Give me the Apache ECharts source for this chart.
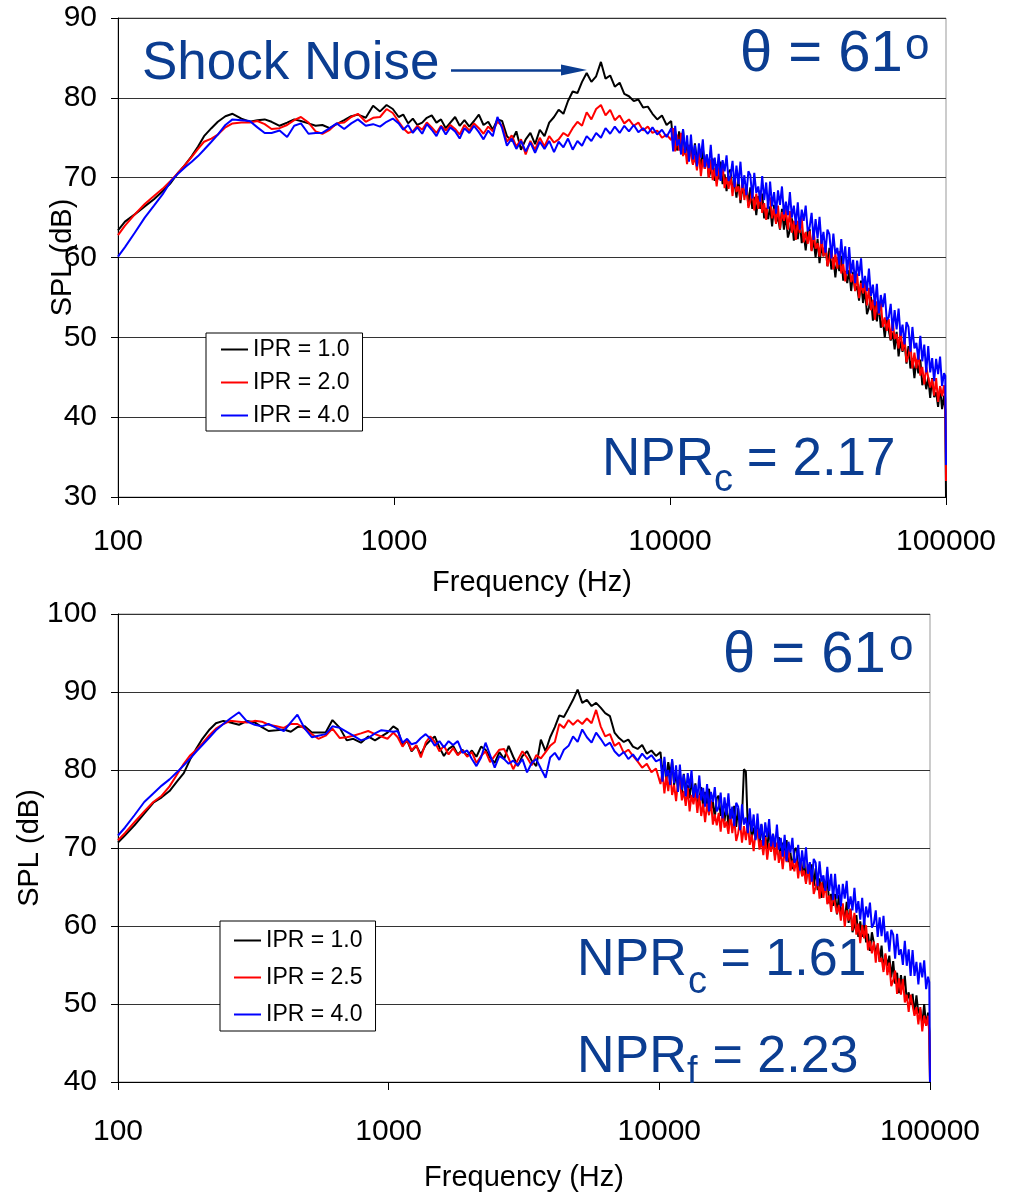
<!DOCTYPE html>
<html>
<head>
<meta charset="utf-8">
<script src="https://cdn.jsdelivr.net/npm/echarts@6.0.0/dist/echarts.min.js"></script>
<style>
html,body{margin:0;padding:0;background:#fff;}
#chart{width:1017px;height:1193px;}
</style>
</head>
<body>
<div id="chart"></div>
<script>
// ---------- DATA ----------
const FREQ = [
  // 100 - 1000 Hz
  100,106,115,125,135,145,155,165,175,185,195,205,218,230,245,260,280,300,320,340,360,385,410,435,460,490,520,550,585,620,660,700,740,790,840,890,940,990,
  // 1 k - 10 kHz
  1040,1080,1125,1170,1215,1265,1315,1370,1425,1480,1540,1600,1665,1730,1800,1875,1950,2030,2110,2195,2280,2370,2465,2565,2670,2775,2885,3000,3120,3245,3375,3510,3650,3800,3950,4110,4270,4440,4620,4800,4990,5190,5400,5620,5840,6070,6310,6570,6830,7100,7390,7680,7990,8310,8640,8990,9350,9720,
  // 10 k - 100 kHz
  10100,10270,10440,10610,10790,10970,11150,11340,11530,11720,
  11910,12110,12310,12520,12730,12940,13150,13370,13590,13820,
  14050,14280,14520,14760,15010,15260,15510,15770,16030,16300,
  16570,16850,17130,17410,17700,18000,18300,18600,18910,19230,
  19550,19870,20200,20540,20880,21230,21580,21940,22310,22680,
  23050,23440,23830,24220,24620,25030,25450,25870,26300,26740,
  27190,27640,28100,28570,29040,29520,30010,30510,31020,31540,
  32060,32590,33130,33690,34250,34820,35400,35980,36580,37190,
  37810,38440,39080,39730,40390,41060,41740,42440,43140,43860,
  44590,45330,46080,46850,47630,48420,49230,50040,50880,51720,
  52580,53460,54350,55250,56170,57100,58050,59020,60000,61000,
  62010,63040,64090,65150,66230,67330,68450,69590,70750,71920,
  73120,74330,75570,76830,78100,79400,80720,82060,83420,84810,
  86220,87650,89100,90580,92090,93620,95180,96760,98360,99400,
  100000
];

// Top panel (NPRc = 2.17)
const SPL_TOP_IPR10 = [
  63.4,64.5,65.4,66.4,67.3,68.3,69.3,70.6,71.6,72.7,73.9,75.2,76.2,77.0,77.7,78.0,77.4,77.0,77.2,77.3,77.0,76.5,76.9,77.3,77.1,76.8,76.5,76.6,76.2,76.7,77.2,77.7,77.9,77.5,79.0,78.3,79.1,78.6,
  77.6,77.9,76.8,77.4,76.6,76.9,77.5,77.8,76.9,77.3,76.2,76.9,77.6,76.5,77.2,76.4,77.1,77.9,76.6,77.0,76.0,77.3,77.1,75.2,74.6,75.8,73.5,74.8,75.6,74.2,76.0,75.2,76.9,77.6,78.5,78.0,79.6,80.8,80.6,82.0,83.1,82.0,82.7,84.5,82.4,82.8,81.4,81.9,80.5,80.2,79.6,79.8,78.8,78.9,78.0,77.3,77.8,76.6,
  77.1,74.4,75.8,73.4,75.8,74.2,76.0,72.9,74.2,72.6,
  74.2,71.7,74.3,72.1,72.8,71.1,73.7,71.1,72.9,70.0,
  70.9,72.4,69.6,71.7,69.8,72.0,69.2,70.4,68.3,70.7,
  71.0,68.3,69.5,67.5,69.8,66.8,68.9,67.7,69.2,66.5,
  68.8,66.1,67.6,65.3,67.7,66.1,68.0,64.9,66.2,64.8,
  66.4,63.9,66.6,64.4,65.1,63.5,66.1,63.5,65.3,62.5,
  63.4,64.9,62.1,64.2,62.3,64.6,61.8,63.0,60.9,63.3,
  63.6,60.9,62.1,60.0,62.3,59.3,61.4,60.2,61.6,58.9,
  61.2,58.5,60.0,57.5,59.9,58.3,60.2,57.1,58.3,56.8,
  58.4,55.8,58.2,55.9,56.4,54.6,57.1,54.3,56.0,52.9,
  53.7,55.1,52.1,54.1,52.0,54.1,51.2,52.2,50.0,52.2,
  52.4,49.6,50.6,48.5,50.7,47.6,49.5,48.2,49.6,46.7,
  48.9,46.1,47.4,44.9,47.2,45.5,47.2,44.0,45.2,43.5,
  45.0,42.4,44.9,42.5,43.1,41.3,43.8,41.0,42.7,40.8,
  30.0
];
const SPL_TOP_IPR20 = [
  62.8,64.0,65.4,66.7,67.7,68.6,69.6,70.6,71.6,72.6,73.6,74.5,74.9,75.4,76.3,76.8,76.9,76.9,77.1,76.7,76.1,76.2,76.6,77.2,77.6,76.9,75.8,75.5,76.0,76.8,76.9,77.6,78.0,77.0,77.5,77.6,78.6,78.1,
  77.0,76.2,75.6,75.8,76.5,76.0,76.9,76.3,75.6,76.5,75.9,76.6,76.1,75.4,76.6,75.9,76.8,76.2,75.5,76.4,75.8,77.0,76.5,74.5,75.3,73.9,74.8,72.9,74.6,73.5,75.0,73.9,75.2,74.4,74.8,75.6,75.2,76.2,77.0,76.5,78.2,77.3,78.6,79.1,77.8,78.5,77.2,77.8,76.8,77.3,76.5,76.9,75.9,76.4,75.6,75.9,75.0,75.4,
  74.7,76.2,73.3,75.4,73.4,75.6,72.7,73.9,71.7,74.1,
  74.3,71.6,72.8,70.9,73.2,70.2,72.3,71.1,72.7,70.0,
  72.3,69.7,71.2,68.9,71.3,69.8,71.7,68.7,70.0,68.6,
  70.2,67.7,70.3,68.2,68.9,67.2,69.8,67.2,69.1,66.2,
  67.1,68.6,65.9,68.0,66.1,68.4,65.6,66.8,64.7,67.2,
  67.5,64.9,66.1,64.2,66.5,63.6,65.7,64.6,66.1,63.5,
  65.8,63.1,64.6,62.2,64.6,63.1,65.0,61.9,63.2,61.7,
  63.3,60.8,63.4,61.1,61.8,60.1,62.7,60.1,61.8,58.9,
  59.8,61.3,58.5,60.5,58.6,60.8,58.0,59.2,57.0,59.4,
  59.7,56.9,57.9,55.8,58.0,54.9,56.8,55.5,56.9,54.0,
  56.2,53.4,54.7,52.2,54.5,52.8,54.5,51.3,52.5,50.8,
  52.3,49.7,52.1,49.8,50.4,48.6,51.0,48.3,50.0,46.9,
  47.7,49.1,46.1,48.1,46.1,48.2,45.2,46.3,44.1,46.3,
  46.5,43.7,44.8,42.7,44.9,41.9,43.9,42.6,44.0,42.3,
  32.0
];
const SPL_TOP_IPR40 = [
  60.1,61.3,63.1,65.0,66.5,67.9,69.5,70.5,71.3,72.0,72.7,73.5,74.5,75.4,76.6,77.3,77.2,77.1,76.3,75.6,75.6,75.9,75.1,76.5,76.8,75.5,75.6,75.6,76.2,76.8,76.1,76.8,77.3,76.5,76.7,76.4,77.0,77.4,
  76.8,76.0,76.6,75.6,76.3,75.5,76.7,76.0,75.2,76.4,75.4,76.3,75.8,74.9,76.2,75.6,76.5,75.7,74.8,75.9,75.2,77.6,76.2,74.0,74.9,73.6,74.6,73.3,74.4,73.1,74.5,73.6,74.6,73.2,74.5,73.8,74.9,73.5,74.6,74.0,75.2,74.6,75.6,75.0,76.2,75.5,76.4,75.6,76.5,75.8,76.6,75.7,76.2,75.5,76.3,75.4,76.0,75.1,
  76.2,73.3,76.5,74.0,74.8,72.9,76.1,73.1,75.3,72.0,
  75.4,72.3,74.1,71.4,74.3,72.5,74.8,71.3,72.9,71.2,
  74.1,71.0,72.5,70.2,73.0,69.6,72.2,70.8,72.8,69.6,
  70.2,72.1,68.8,71.5,69.2,72.0,68.7,70.3,67.8,70.8,
  70.3,67.4,70.6,68.1,68.9,67.0,70.2,67.2,69.4,66.1,
  69.5,66.4,68.2,65.5,68.4,66.6,68.9,65.4,67.0,65.3,
  68.2,65.0,66.5,64.1,66.9,63.5,66.0,64.6,66.5,63.3,
  63.8,65.6,62.2,64.8,62.4,65.1,61.7,63.2,60.6,63.5,
  62.9,59.9,63.0,60.4,61.2,59.1,62.3,59.2,61.4,57.9,
  61.3,58.0,59.7,56.8,59.6,57.7,59.9,56.2,57.7,55.8,
  58.6,55.2,56.6,54.0,56.7,53.0,55.3,53.8,55.5,52.2,
  52.5,54.2,50.8,53.4,51.0,53.6,50.2,51.6,49.1,51.9,
  51.3,48.2,51.3,48.6,49.3,47.2,50.2,47.0,49.1,45.6,
  48.9,45.6,47.4,44.5,47.3,45.4,47.6,43.9,45.5,45.2,
  34.0
];

// Bottom panel (NPRc = 1.61, NPRf = 2.23)
const SPL_BOT_IPR10 = [
  70.7,71.6,72.9,74.4,75.8,76.5,77.3,78.5,79.6,81.4,82.8,84.0,85.2,86.0,86.3,86.1,85.8,86.3,86.1,85.5,85.0,85.1,85.2,84.9,85.5,85.6,84.8,84.8,84.8,86.4,85.4,83.8,84.0,83.5,84.3,83.8,84.3,84.8,
  85.6,85.2,83.1,83.8,82.4,83.1,82.0,83.2,83.8,84.3,82.9,81.8,82.7,83.1,82.0,82.6,81.8,82.5,81.7,83.0,82.6,81.6,80.9,82.3,81.4,83.1,81.7,80.5,81.8,82.4,81.2,80.5,83.9,82.4,84.2,85.5,87.0,86.8,87.9,89.0,90.3,88.6,89.0,88.2,88.6,88.0,87.3,86.9,84.8,84.1,83.6,83.9,83.0,82.7,83.2,82.1,82.5,81.8,
  82.3,79.6,81.0,78.6,81.0,79.4,81.2,78.1,79.4,77.8,
  79.4,76.9,79.5,77.4,78.1,76.4,79.0,76.4,78.3,75.4,
  76.3,77.8,75.1,77.2,75.3,77.6,74.8,76.0,73.9,76.4,
  76.7,74.1,75.3,73.4,75.7,72.8,75.0,73.8,75.4,72.7,
  75.1,72.4,74.0,80.1,79.8,72.5,74.4,71.3,72.6,71.2,
  72.8,70.3,73.0,70.8,71.6,69.9,72.5,70.0,71.8,69.0,
  69.9,71.4,68.6,70.7,68.8,71.0,68.2,69.4,67.3,69.7,
  70.0,67.3,68.4,66.4,68.6,65.6,67.7,66.4,67.9,65.1,
  67.4,64.6,66.1,63.6,65.9,64.3,66.1,62.9,64.1,62.6,
  64.1,61.5,64.0,61.8,62.4,60.6,63.1,60.4,62.2,59.2,
  60.0,61.4,58.6,60.6,58.6,60.8,57.9,59.0,56.8,59.2,
  59.4,56.5,57.6,55.4,57.5,54.4,56.3,54.9,56.2,53.4,
  55.5,52.6,54.0,51.4,53.7,51.9,53.6,50.4,51.5,49.9,
  51.3,48.7,51.1,48.8,49.3,47.5,50.0,47.2,48.9,46.6,
  40.0
];
const SPL_BOT_IPR25 = [
  71.0,71.9,73.3,74.7,75.9,76.7,77.9,79.4,80.8,81.9,82.6,83.4,84.5,85.3,85.9,86.3,86.2,86.1,86.3,86.2,85.8,85.6,85.4,85.9,85.9,85.3,84.6,84.0,84.4,85.3,84.1,84.2,84.4,84.7,85.0,84.6,84.3,84.0,
  84.8,84.2,83.0,83.9,82.5,83.2,81.6,83.5,84.3,83.6,82.4,83.1,82.0,82.8,81.9,82.5,81.7,82.3,80.9,81.8,82.4,81.0,81.8,82.6,82.7,81.5,80.1,81.3,82.4,81.6,80.6,81.9,81.5,82.3,83.1,83.6,85.9,85.4,86.4,85.8,86.4,85.9,86.6,86.0,87.7,85.6,84.3,84.6,83.1,83.5,82.2,82.6,81.8,81.1,80.3,80.8,79.7,80.2,
  78.2,79.8,77.0,79.2,77.3,79.6,76.8,78.1,76.0,78.5,
  78.8,76.1,77.3,75.4,77.7,74.7,76.8,75.6,77.2,74.5,
  76.8,74.1,75.7,73.3,75.7,74.2,76.1,73.0,74.3,72.9,
  74.5,72.1,74.7,72.6,73.4,71.8,74.4,71.9,73.8,70.9,
  71.9,73.4,70.7,72.8,71.0,73.2,70.4,71.7,69.6,72.1,
  72.4,69.8,71.0,69.1,71.4,68.5,70.6,69.5,71.0,68.4,
  70.7,68.1,69.6,67.3,69.7,68.2,70.1,67.1,68.4,67.0,
  68.6,66.1,68.6,66.4,67.1,65.4,67.9,65.3,67.1,64.1,
  65.0,66.4,63.5,65.6,63.6,65.7,62.8,63.9,61.8,64.1,
  64.3,61.6,62.7,60.7,62.9,59.9,62.0,60.7,62.2,59.4,
  61.7,58.9,60.3,57.8,60.1,58.4,60.1,56.9,58.1,56.5,
  58.0,55.3,57.8,55.4,55.9,54.1,56.5,53.7,55.3,52.3,
  53.0,54.3,51.3,53.3,51.2,53.2,50.2,51.2,49.0,51.2,
  51.3,48.5,49.6,47.4,49.6,46.5,48.5,47.2,48.5,46.2,
  40.0
];
const SPL_BOT_IPR40 = [
  71.6,72.6,74.2,75.9,77.0,78.0,78.8,79.7,80.6,81.5,82.4,83.2,84.2,85.1,85.9,86.6,87.4,86.2,85.8,85.6,85.9,85.4,85.0,86.1,87.1,85.3,84.2,84.4,84.6,85.6,85.4,84.9,84.4,83.8,84.1,84.7,85.1,85.0,
  84.9,85.0,83.5,84.0,83.3,83.5,84.1,84.6,84.0,83.1,83.7,82.9,83.7,83.2,83.7,82.2,82.5,81.4,80.5,81.6,83.5,81.9,80.3,81.8,81.4,80.8,81.2,80.6,81.4,79.7,80.9,81.4,80.2,79.0,81.6,82.2,81.3,82.6,83.1,84.3,83.6,85.2,84.2,83.5,84.8,84.0,83.1,83.5,82.4,81.8,82.3,81.4,82.0,81.2,82.1,81.4,81.9,81.1,
  81.4,78.5,81.7,79.2,80.0,78.1,81.4,78.3,80.6,77.2,
  80.7,77.5,79.4,76.6,79.6,77.7,80.0,76.5,78.1,76.4,
  79.3,76.1,77.7,75.3,78.2,74.7,77.2,75.9,77.8,74.7,
  75.2,77.1,73.8,76.5,74.2,77.0,73.7,75.3,72.8,75.8,
  75.3,72.3,75.6,73.0,73.9,71.9,75.1,72.1,74.3,71.0,
  74.4,71.2,73.1,70.3,73.3,71.4,73.7,70.2,71.8,70.1,
  73.0,69.8,71.3,68.9,71.7,68.3,70.8,69.4,71.3,68.1,
  68.6,70.4,67.1,69.7,67.4,70.1,66.7,68.2,65.7,68.6,
  68.1,65.1,68.3,65.7,66.5,64.5,67.6,64.5,66.7,63.3,
  66.7,63.5,65.3,62.5,65.4,63.5,65.8,62.2,63.8,62.0,
  64.9,61.7,63.2,60.8,63.6,60.1,62.5,61.1,63.0,59.8,
  60.3,62.0,58.6,61.1,58.7,61.3,57.9,59.3,56.7,59.5,
  58.9,55.8,59.0,56.3,57.0,55.0,58.1,54.9,57.0,53.6,
  56.9,53.6,55.4,52.5,55.3,53.4,55.6,51.9,53.5,52.8,
  40.0
];

const X_TICKS = ['100', '1000', '10000', '100000'];
const TOP_LEGEND = ['IPR = 1.0', 'IPR = 2.0', 'IPR = 4.0'];
const BOT_LEGEND = ['IPR = 1.0', 'IPR = 2.5', 'IPR = 4.0'];
const ARROW = { from: [1609, 83.5], to: [4490, 83.5] };

// ---------- BUILD ----------
[SPL_TOP_IPR10, SPL_TOP_IPR20, SPL_TOP_IPR40, SPL_BOT_IPR10, SPL_BOT_IPR25, SPL_BOT_IPR40].forEach(function (a, i) {
  if (a.length !== FREQ.length) throw new Error('length mismatch in series ' + i + ': ' + a.length + ' vs ' + FREQ.length);
});

const FONT = '"Liberation Sans", Arial, Helvetica, sans-serif';
const TXT_BLUE = '#0b3d91';
const COLORS = ['#000000', '#ff0000', '#0000ff'];

function pairs(f, v) { return f.map(function (x, i) { return [x, v[i]]; }); }

function mkX(gi, margin, gap) {
  return {
    type: 'log', logBase: 10, gridIndex: gi, min: 100, max: 100000,
    name: 'Frequency (Hz)', nameLocation: 'middle', nameGap: gap, nameMoveOverlap: false,
    nameTextStyle: { fontSize: 29, color: '#000', fontFamily: FONT },
    axisLine: { show: true, lineStyle: { color: '#000', width: 1 } },
    axisTick: { show: true, inside: false, length: 8, lineStyle: { color: '#000' } },
    axisLabel: { margin: margin, fontSize: 30, color: '#000', fontFamily: FONT,
      formatter: function (v) { var s = String(Math.round(v)); return X_TICKS.indexOf(s) >= 0 ? s : ''; } },
    splitLine: { show: false }, minorTick: { show: false }
  };
}
function mkY(gi, min, max, gap) {
  return {
    type: 'value', gridIndex: gi, min: min, max: max, interval: 10,
    name: 'SPL (dB)', nameLocation: 'middle', nameGap: gap, nameMoveOverlap: false,
    nameTextStyle: { fontSize: 29, color: '#000', fontFamily: FONT },
    axisLine: { show: true, lineStyle: { color: '#000', width: 1 } },
    axisTick: { show: true, inside: false, length: 7, lineStyle: { color: '#000' } },
    axisLabel: { margin: 21, fontSize: 30, color: '#000', fontFamily: FONT },
    splitLine: { show: true, lineStyle: { color: '#333', width: 1 } }
  };
}
function mkSeries(name, gi, vals, color, extra) {
  var s = {
    type: 'line', name: name, xAxisIndex: gi, yAxisIndex: gi,
    data: pairs(FREQ, vals), showSymbol: false, symbol: 'none',
    lineStyle: { color: color, width: 2 }, itemStyle: { color: color },
    emphasis: { disabled: true }, silent: true
  };
  if (extra) Object.assign(s, extra);
  return s;
}
function T(x, y, text, size) {
  return { type: 'text', x: x, y: y, silent: true, z: 100,
    style: { text: text, fill: TXT_BLUE, font: size + 'px ' + FONT,
      align: 'left', verticalAlign: 'middle', textAlign: 'left', textVerticalAlign: 'middle' } };
}
function mkLegend(left, top, gap, pad, names) {
  return {
    orient: 'vertical', left: left, top: top, padding: pad, itemGap: gap,
    itemWidth: 27, itemHeight: 2, icon: 'rect',
    borderColor: '#000', borderWidth: 1, backgroundColor: '#fff',
    textStyle: { fontSize: 23, color: '#000', fontFamily: FONT },
    selectedMode: false, data: names
  };
}

const option = {
  animation: false,
  backgroundColor: '#fff',
  grid: [
    { left: 118, top: 18, width: 828, height: 479, show: true, borderColor: '#999', borderWidth: 1, backgroundColor: 'transparent' },
    { left: 118, top: 614, width: 812, height: 470, show: true, borderColor: '#999', borderWidth: 1, backgroundColor: 'transparent' }
  ],
  xAxis: [mkX(0, 30, 71), mkX(1, 35, 81)],
  yAxis: [mkY(0, 30, 90, 41), mkY(1, 40, 100, 74)],
  legend: [
    mkLegend(206, 333, 10, [5, 13, 4, 15], TOP_LEGEND),
    mkLegend(220, 921, 14, [8, 13, 5, 14], BOT_LEGEND)
  ],
  series: [
    mkSeries(TOP_LEGEND[0], 0, SPL_TOP_IPR10, COLORS[0], {
      markLine: {
        silent: true, symbol: ['none', 'triangle'], symbolSize: [11, 26],
        label: { show: false },
        lineStyle: { color: TXT_BLUE, width: 2.6, type: 'solid' },
        data: [[{ coord: ARROW.from, symbol: 'none' }, { coord: ARROW.to, symbol: 'triangle' }]]
      }
    }),
    mkSeries(TOP_LEGEND[1], 0, SPL_TOP_IPR20, COLORS[1]),
    mkSeries(TOP_LEGEND[2], 0, SPL_TOP_IPR40, COLORS[2]),
    mkSeries(BOT_LEGEND[0], 1, SPL_BOT_IPR10, COLORS[0]),
    mkSeries(BOT_LEGEND[1], 1, SPL_BOT_IPR25, COLORS[1]),
    mkSeries(BOT_LEGEND[2], 1, SPL_BOT_IPR40, COLORS[2])
  ],
  graphic: [
    T(142, 64, 'Shock Noise', 53),
    T(740, 55, '\u03B8 = 61', 58),
    T(905, 47, 'o', 44),
    T(602, 460, 'NPR', 53),
    T(714, 481, 'c', 38),
    T(732, 460, ' = 2.17', 53),
    T(723, 656, '\u03B8 = 61', 58),
    T(889, 648, 'o', 44),
    T(577, 961, 'NPR', 52),
    T(688, 983, 'c', 38),
    T(706, 961, ' = 1.61', 52),
    T(577, 1058, 'NPR', 52),
    T(687, 1073, 'f', 38),
    T(698, 1058, ' = 2.23', 52)
  ]
};

const chart = echarts.init(document.getElementById('chart'), null, { renderer: 'canvas' });
chart.setOption(option);
</script>
</body>
</html>
